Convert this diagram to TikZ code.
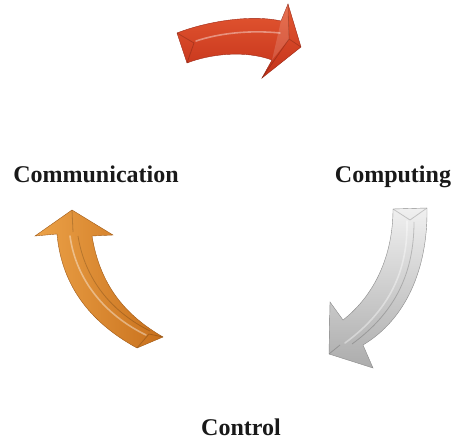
\documentclass[tikz,border=0pt]{standalone}
\usepackage{fontspec}
\setmainfont{Liberation Serif}
\usetikzlibrary{arrows}
\definecolor{redtop}{RGB}{228,88,50}
\definecolor{redbot}{RGB}{196,50,26}
\definecolor{orgtop}{RGB}{236,162,72}
\definecolor{orgbot}{RGB}{200,112,28}
\definecolor{grytop}{RGB}{240,240,240}
\definecolor{grybot}{RGB}{172,172,172}
\tikzset{
  cyclab/.style={font=\bfseries\fontsize{24}{28}\selectfont, anchor=base, text=black!90},
  ridge/.style={white, opacity=0.4, line width=1.6pt, line cap=round},
  crease/.style={black, opacity=0.18, line width=0.8pt}
}

\begin{document}
\begin{tikzpicture}[x=1pt,y=-1pt]
        \useasboundingbox (0,0) rectangle (455,443);
        \shade[top color=redtop, bottom color=redbot, draw=redbot!80!black, line width=0.4pt]
          (177,33) .. controls (205,22) and (250,14) .. (281,21) -- (288,4) -- (301,47)
          -- (262,78) -- (272,60) .. controls (245,50) and (210,54) .. (187,63) -- cycle;
        \fill[white, opacity=0.15] (281,21) -- (288,4) -- (289,39) -- (272,60) -- cycle;
        \draw[crease] (177,33) -- (194,43) -- (187,63);
        \draw[crease] (288,4) -- (289,39) -- (262,78) (289,39) -- (301,47);
        \draw[ridge] (196,41) .. controls (220,33) and (250,30) .. (280,33);
        \shade[left color=orgtop, right color=orgbot, draw=orgbot!80!black, line width=0.4pt]
          (57,234) -- (35,236) -- (72,210) -- (113,235) -- (92,236)
          .. controls (100,285) and (125,315) .. (163,337) -- (137,348)
          .. controls (95,325) and (62,290) .. (57,234) -- cycle;
        \draw[crease] (72,210) -- (73,232) (137,348) -- (149,334) -- (163,337);
        \draw[ridge] (70,236) .. controls (76,280) and (105,315) .. (146,335);
        \draw[crease] (78,236) .. controls (85,280) and (112,312) .. (150,331);
        \shade[top color=grytop, bottom color=grybot, draw=grybot!80!black, line width=0.4pt]
          (393,209) -- (427,208) .. controls (428,270) and (405,320) .. (363,345)
          -- (373,368) -- (329,354) -- (330,302) -- (343,320)
          .. controls (375,295) and (393,255) .. (393,209) -- cycle;
        \draw[crease] (393,209) -- (410,220) -- (427,208) (329,354) -- (340,345);
        \draw[ridge] (407,221) .. controls (408,270) and (390,310) .. (345,343);
        \draw[crease] (414,222) .. controls (414,272) and (396,312) .. (352,344);
        \node[cyclab] (comm) at (96,183) {Communication};
        \node[cyclab] (comp) at (393,183) {Computing};
        \node[cyclab] (ctrl) at (241,435) {Control};
\end{tikzpicture}
\end{document}
